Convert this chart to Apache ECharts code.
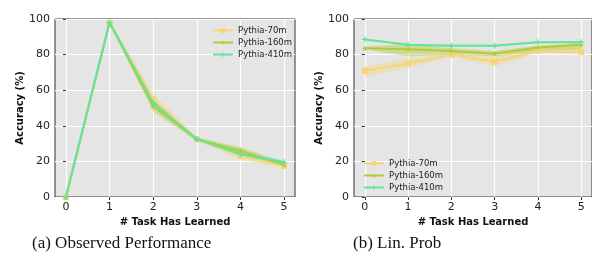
<!DOCTYPE html>
<html>
<head>
<meta charset="utf-8">
<script src="https://cdn.jsdelivr.net/npm/echarts@6/dist/echarts.min.js"></script>
<style>
  html, body { margin: 0; padding: 0; background: #fff; }
  #chart { width: 592px; height: 262px; }
</style>
</head>
<body>
<div id="chart"></div>
<script>
    var tasks = [0, 1, 2, 3, 4, 5];
    var names = ['Pythia-70m', 'Pythia-160m', 'Pythia-410m'];
    var colors = ['#f4d57c', '#b2cb3b', '#5fe59c'];

    // (a) observed performance
    var obsMean = [
        [0, 98, 55, 32.5, 23, 17.5],
        [0, 98, 51, 32.5, 26, 18],
        [0, 98, 53, 32.5, 24, 19.5]
    ];
    var obsLow = [
        [0, 97, 51, 31.5, 21, 16.5],
        [0, 97, 48, 31.5, 24, 17],
        [0, 97, 52, 32, 23, 18.5]
    ];
    var obsHigh = [
        [0, 99, 58, 33.5, 25, 19],
        [0, 99, 54, 33.5, 28, 19.5],
        [0, 99, 55, 33, 25.5, 20.5]
    ];
    // (b) linear probe
    var probeMean = [
        [71, 75, 80, 76, 82, 81.5],
        [83.5, 83, 82, 80.5, 84, 85.5],
        [88.5, 85.5, 85, 85, 87, 87]
    ];
    var probeLow = [
        [67.5, 72.5, 79, 73.5, 81, 80.5],
        [83, 79, 80, 79, 82, 83],
        [88, 85, 84.5, 84.5, 86.5, 86.5]
    ];
    var probeHigh = [
        [73.5, 77.5, 81, 78.5, 84, 84],
        [84.5, 86, 83.5, 82, 85, 86.5],
        [89, 86, 85.5, 85.5, 87.5, 87.5]
    ];

    var star = 'path://M50,0 L61,35 L98,35 L68,57 L79,91 L50,70 L21,91 L32,57 L2,35 L39,35 Z';
    var plus = 'path://M40,0 L60,0 L60,40 L100,40 L100,60 L60,60 L60,100 L40,100 L40,60 L0,60 L0,40 L40,40 Z';
    var symbols = ['rect', star, plus];

    function pairs(vals) {
        return tasks.map(function(t, i) { return [t, vals[i]]; });
    }

    // shaded band between low and high, drawn through the axis scales
    function band(idx, low, high, color) {
        return {
            type: 'custom', xAxisIndex: idx, yAxisIndex: idx, silent: true, z: 1,
            data: [[0, low[0]]],
            renderItem: function(params, api) {
                var pts = [];
                tasks.forEach(function(t, i) { pts.push(api.coord([t, high[i]])); });
                for (var i = tasks.length - 1; i >= 0; i--) pts.push(api.coord([tasks[i], low[i]]));
                return {
                    type: 'polygon',
                    shape: { points: pts },
                    style: { fill: color, opacity: 0.45 }
                };
            }
        };
    }

    var series = [];
    function addPanel(idx, mean, low, high) {
        for (var s = 0; s < 3; s++) series.push(band(idx, low[s], high[s], colors[s]));
        for (var k = 0; k < 3; k++) {
            series.push({
                name: names[k], type: 'line', xAxisIndex: idx, yAxisIndex: idx,
                symbol: symbols[k], symbolSize: 6,
                itemStyle: { color: colors[k] },
                lineStyle: { color: colors[k], width: 2 },
                data: pairs(mean[k]),
                z: 5 + k
            });
        }
    }
    addPanel(0, obsMean, obsLow, obsHigh);
    addPanel(1, probeMean, probeLow, probeHigh);

    function xAxis(idx) {
        return {
            type: 'value', gridIndex: idx, min: -0.25, max: 5.25,
            name: '# Task Has Learned', nameLocation: 'middle', nameGap: 18,
            nameTextStyle: { fontFamily: 'DejaVu Sans', fontWeight: 'bold', fontSize: 10, color: '#111' },
            axisLine: { show: false },
            axisTick: { show: true, customValues: tasks, length: 3, lineStyle: { color: '#333' } },
            axisLabel: { customValues: tasks, fontFamily: 'DejaVu Sans', fontSize: 11, color: '#222', margin: 5 },
            splitLine: { show: true, customValues: tasks, lineStyle: { color: '#fff', width: 1.2 } }
        };
    }
    function yAxis(idx) {
        return {
            type: 'value', gridIndex: idx, min: 0, max: 100, interval: 20,
            name: 'Accuracy (%)', nameLocation: 'middle', nameGap: 27,
            nameTextStyle: { fontFamily: 'DejaVu Sans', fontWeight: 'bold', fontSize: 10, color: '#111' },
            axisLine: { show: false },
            axisTick: { show: true, length: 3, lineStyle: { color: '#333' } },
            axisLabel: { fontFamily: 'DejaVu Sans', fontSize: 11, color: '#222', margin: 5 },
            splitLine: { show: true, lineStyle: { color: '#fff', width: 1.2 } }
        };
    }

    var legendText = { fontFamily: 'DejaVu Sans', fontSize: 8.5, color: '#222' };
    var chart = echarts.init(document.getElementById('chart'), null, { renderer: 'canvas' });
    var option = {
        animation: false,
        backgroundColor: '#fff',
        grid: [
            { left: 55, top: 19, width: 240, height: 178, show: true, backgroundColor: '#e5e5e5', borderColor: '#333', borderWidth: 1 },
            { left: 354, top: 19, width: 241, height: 178, show: true, backgroundColor: '#e5e5e5', borderColor: '#333', borderWidth: 1 }
        ],
        title: [
            { text: '(a) Observed Performance', left: 27, top: 230,
              textStyle: { fontFamily: 'Liberation Serif', fontWeight: 'normal', fontSize: 17, color: '#111' } },
            { text: '(b) Lin. Prob', left: 348, top: 230,
              textStyle: { fontFamily: 'Liberation Serif', fontWeight: 'normal', fontSize: 17, color: '#111' } }
        ],
        legend: [
            { data: names, orient: 'vertical', left: 207, top: 21, itemWidth: 20, itemHeight: 6, itemGap: 3,
              textStyle: legendText, selectedMode: false },
            { data: names, orient: 'vertical', left: 358, top: 154, itemWidth: 20, itemHeight: 6, itemGap: 3,
              textStyle: legendText, selectedMode: false }
        ],
        xAxis: [xAxis(0), xAxis(1)],
        yAxis: [yAxis(0), yAxis(1)],
        series: series
    };
    chart.setOption(option);
</script>
</body>
</html>
